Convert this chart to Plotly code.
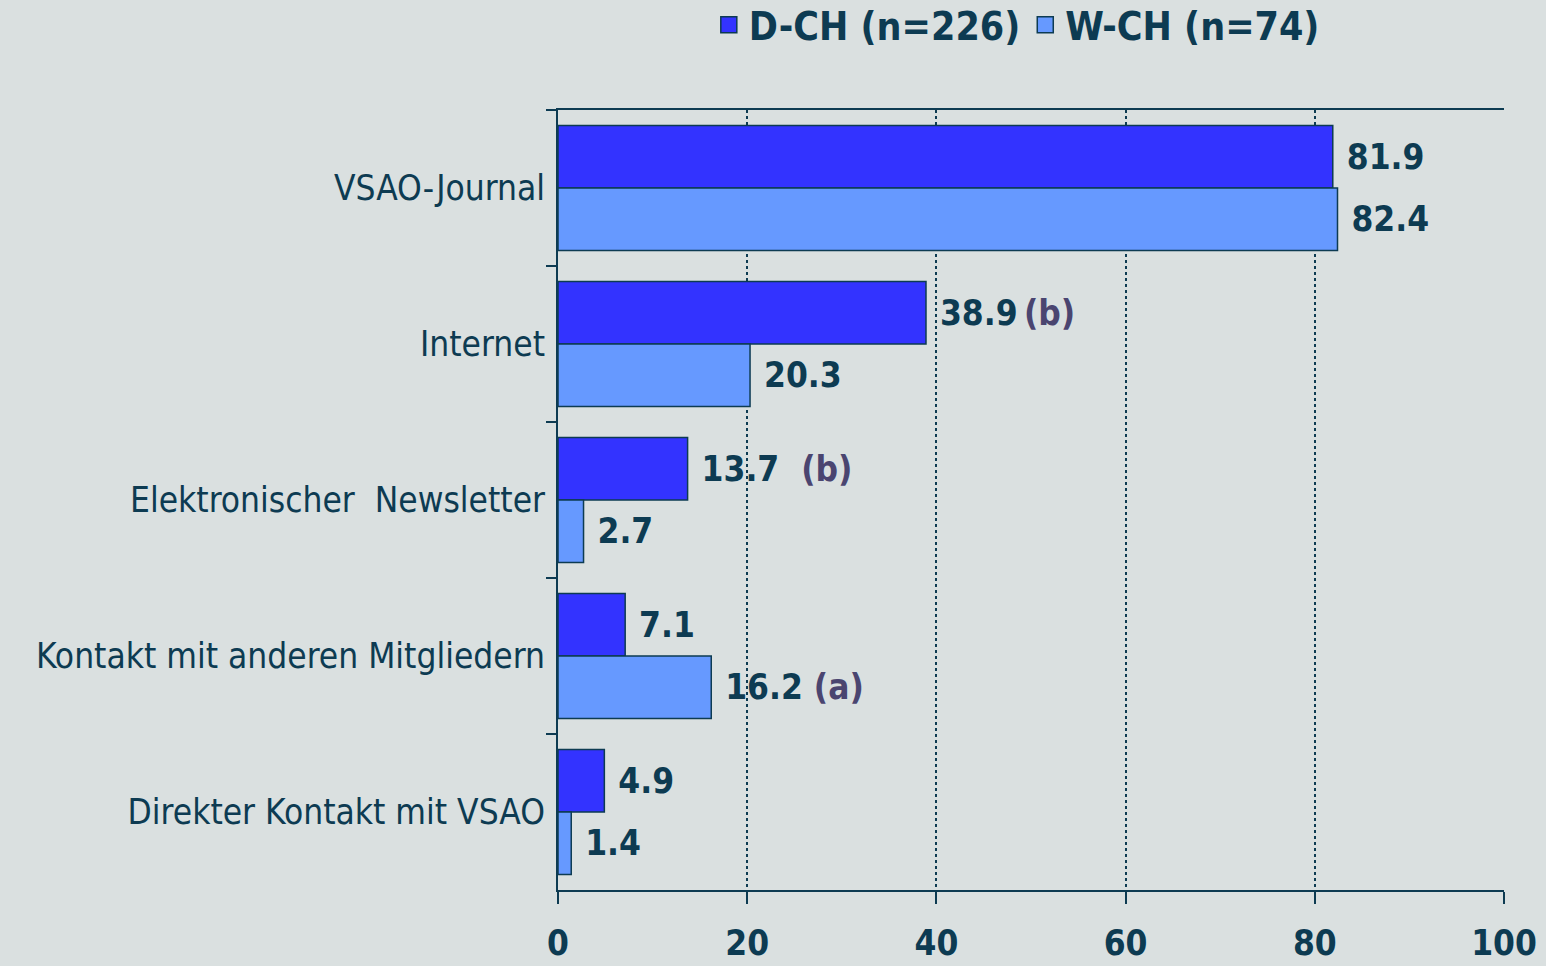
import plotly.graph_objects as go

# categories, top to bottom
categories = [
    "VSAO-Journal",
    "Internet",
    "Elektronischer  Newsletter",
    "Kontakt mit anderen Mitgliedern",
    "Direkter Kontakt mit VSAO",
]
dch_values = [81.9, 38.9, 13.7, 7.1, 4.9]
wch_values = [82.4, 20.3, 2.7, 16.2, 1.4]
dch_notes = ["", "(b)", "(b)", "", ""]
wch_notes = ["", "", "", "(a)", ""]
series_names = ["D-CH (n=226)", "W-CH (n=74)"]
x_ticks = [0, 20, 40, 60, 80, 100]

TXT = "#0d3b52"
NOTE = "#4a4570"
BG = "#dae0e0"
COLORS = ["#3333ff", "#6699ff"]
FONT = "DejaVu Sans Condensed"

# gap between value and note, per category (thin / normal spaces)
note_gaps = ["", "\u2009", "\u00a0\u00a0", "\u00a0", ""]


def labels(values, notes):
    out = []
    for v, n, g in zip(values, notes, note_gaps):
        s = "\u00a0" + f"{v:.1f}"
        if n:
            s += g + f"<span style='color:{NOTE}'>{n}</span>"
        out.append(s)
    return out


fig = go.Figure()
for vals, notes, name, col in [(dch_values, dch_notes, series_names[0], COLORS[0]),
                               (wch_values, wch_notes, series_names[1], COLORS[1])]:
    fig.add_trace(go.Bar(
        y=categories, x=vals, orientation="h", name=name, showlegend=False,
        marker=dict(color=col, line=dict(color=TXT, width=1.5)),
        text=labels(vals, notes), textposition="outside",
        textfont=dict(family=FONT, size=35, color=TXT, weight="bold"),
        cliponaxis=False,
    ))
    # legend entry with a larger square swatch
    fig.add_trace(go.Scatter(
        x=[None], y=[None], mode="markers", name=name,
        marker=dict(symbol="square", size=20, color=col, line=dict(color=TXT, width=1.5)),
    ))

fig.update_layout(
    width=1546, height=966,
    paper_bgcolor=BG, plot_bgcolor=BG,
    margin=dict(l=558, r=42, t=110, b=76, autoexpand=False),
    barmode="group", bargap=0.2, bargroupgap=0,
    font=dict(family=FONT, color=TXT),
    legend=dict(
        orientation="h", x=0.485, xanchor="center", y=1.15, yanchor="top",
        font=dict(family=FONT, size=39, color=TXT, weight="bold"),
        bgcolor="rgba(0,0,0,0)", itemwidth=30, itemsizing="trace",
    ),
)
fig.update_xaxes(
    range=[0, 100], tickvals=x_ticks, automargin=False,
    showline=True, linecolor=TXT, linewidth=2, mirror=True,
    ticks="outside", ticklen=12, tickcolor=TXT, tickwidth=1.5,
    ticklabelstandoff=9,
    tickfont=dict(family=FONT, size=35, color=TXT, weight="bold"),
    showgrid=True, gridcolor=TXT, gridwidth=1.5, griddash="dot",
    zeroline=False,
)
fig.update_yaxes(
    autorange="reversed", automargin=False,
    showline=True, linecolor=TXT, linewidth=2,
    ticks="outside", tickson="boundaries", ticklen=10, tickcolor=TXT, tickwidth=1.5,
    tickfont=dict(family=FONT, size=35, color=TXT),
    ticklabelstandoff=4,
    showgrid=False,
)

fig.write_html("out.html", config={"displayModeBar": False},
               post_script="document.body.style.margin='0';")
